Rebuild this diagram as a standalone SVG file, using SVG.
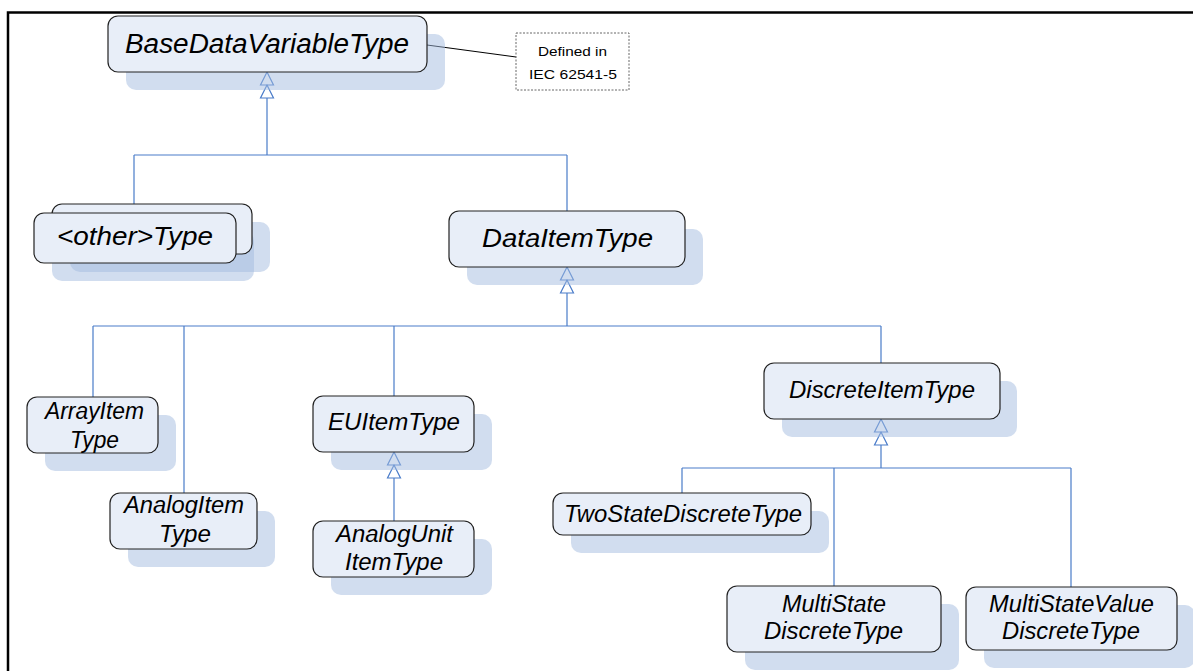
<svg xmlns="http://www.w3.org/2000/svg" width="1193" height="671" viewBox="0 0 1193 671">
<style>
.box{fill:#e8eef8;stroke:#222;stroke-width:1.2}
.sh{fill:#a3bbe0;opacity:0.5}
.t{font-family:"Liberation Sans",Arial,sans-serif;font-style:italic;fill:#000;text-anchor:middle}
.n{font-family:"Liberation Sans",Arial,sans-serif;fill:#000;text-anchor:middle;font-size:13px}
.c{fill:none;stroke:#4a7cc9;stroke-width:1.2}
.tri{fill:#fff;stroke:#4a7cc9;stroke-width:1.2}
</style>
<defs>
<path id="gen" class="tri" d="M0,0 L6.5,13 L-6.5,13 Z M0,13 L6.5,26 L-6.5,26 Z"/>
</defs>
<rect x="0" y="0" width="1193" height="671" fill="#fff"/>
<g id="frame" stroke="#000" stroke-width="2.5" fill="none">
<path d="M8,671 L8,12.5 L1193,12.5"/>
</g>
<g id="connectors">
<path class="c" d="M267,98 L267,155 M134,155 L567,155 M134,155 L134,204 M567,155 L567,211"/>
<use href="#gen" x="267" y="72"/>
<path class="c" d="M567,293 L567,326 M93,326 L881,326 M93,326 L93,397 M184,326 L184,493 M394,326 L394,396 M881,326 L881,363"/>
<use href="#gen" x="567" y="267"/>
<path class="c" d="M394,478 L394,521"/>
<use href="#gen" x="394" y="452"/>
<path class="c" d="M881,445 L881,468 M682,468 L1071,468 M682,468 L682,493 M834,468 L834,586 M1071,468 L1071,587"/>
<use href="#gen" x="881" y="419"/>
<path d="M427,45 L516,57" stroke="#000" stroke-width="1" fill="none"/>
</g>
<g id="BaseDataVariableType">
<rect class="sh" x="126" y="34" width="319" height="56" rx="10"/>
<rect class="box" x="108" y="16" width="319" height="56" rx="10"/>
<text class="t" x="267" y="53" font-size="27" textLength="284" lengthAdjust="spacingAndGlyphs">BaseDataVariableType</text>
</g>
<g id="note">
<rect x="516" y="33" width="113" height="57" fill="#fff" stroke="#666" stroke-width="1" stroke-dasharray="2,1.5"/>
<text class="n" x="572.5" y="56" textLength="69" lengthAdjust="spacingAndGlyphs">Defined in</text>
<text class="n" x="573" y="79" textLength="88" lengthAdjust="spacingAndGlyphs">IEC 62541-5</text>
</g>
<g id="OtherType">
<rect class="sh" x="70" y="222" width="200" height="50" rx="10"/>
<rect class="sh" x="52" y="231" width="202" height="50" rx="10"/>
<rect class="box" x="52" y="204" width="200" height="50" rx="10"/>
<rect class="box" x="34" y="213" width="202" height="50" rx="10"/>
<text class="t" x="135" y="245" font-size="25" textLength="156" lengthAdjust="spacingAndGlyphs">&lt;other&gt;Type</text>
</g>
<g id="DataItemType">
<rect class="sh" x="467" y="229" width="236" height="56" rx="10"/>
<rect class="box" x="449" y="211" width="236" height="56" rx="10"/>
<text class="t" x="567.5" y="247" font-size="25" textLength="171" lengthAdjust="spacingAndGlyphs">DataItemType</text>
</g>
<g id="ArrayItemType">
<rect class="sh" x="45" y="415" width="131" height="56" rx="10"/>
<rect class="box" x="27" y="397" width="131" height="56" rx="10"/>
<text class="t" x="94.5" y="419" font-size="23" textLength="99" lengthAdjust="spacingAndGlyphs">ArrayItem</text>
<text class="t" x="94.5" y="448" font-size="23" textLength="49" lengthAdjust="spacingAndGlyphs">Type</text>
</g>
<g id="AnalogItemType">
<rect class="sh" x="128" y="511" width="147" height="56" rx="10"/>
<rect class="box" x="110" y="493" width="147" height="56" rx="10"/>
<text class="t" x="184" y="513" font-size="23" textLength="120" lengthAdjust="spacingAndGlyphs">AnalogItem</text>
<text class="t" x="185" y="542" font-size="23" textLength="52" lengthAdjust="spacingAndGlyphs">Type</text>
</g>
<g id="EUItemType">
<rect class="sh" x="331" y="414" width="161" height="56" rx="10"/>
<rect class="box" x="313" y="396" width="161" height="56" rx="10"/>
<text class="t" x="394" y="430" font-size="23" textLength="132" lengthAdjust="spacingAndGlyphs">EUItemType</text>
</g>
<g id="AnalogUnitItemType">
<rect class="sh" x="331" y="539" width="161" height="56" rx="10"/>
<rect class="box" x="313" y="521" width="161" height="56" rx="10"/>
<text class="t" x="394.5" y="542" font-size="23" textLength="117" lengthAdjust="spacingAndGlyphs">AnalogUnit</text>
<text class="t" x="394" y="570" font-size="23" textLength="98" lengthAdjust="spacingAndGlyphs">ItemType</text>
</g>
<g id="DiscreteItemType">
<rect class="sh" x="782" y="381" width="235" height="56" rx="10"/>
<rect class="box" x="764" y="363" width="236" height="56" rx="10"/>
<text class="t" x="882" y="398" font-size="23" textLength="186" lengthAdjust="spacingAndGlyphs">DiscreteItemType</text>
</g>
<g id="TwoStateDiscreteType">
<rect class="sh" x="571" y="511" width="258" height="42" rx="10"/>
<rect class="box" x="553" y="493" width="258" height="42" rx="10"/>
<text class="t" x="683" y="522" font-size="23" textLength="238" lengthAdjust="spacingAndGlyphs">TwoStateDiscreteType</text>
</g>
<g id="MultiStateDiscreteType">
<rect class="sh" x="745" y="604" width="214" height="66" rx="10"/>
<rect class="box" x="727" y="586" width="214" height="66" rx="10"/>
<text class="t" x="834" y="612" font-size="23" textLength="104" lengthAdjust="spacingAndGlyphs">MultiState</text>
<text class="t" x="833.5" y="639" font-size="23" textLength="139" lengthAdjust="spacingAndGlyphs">DiscreteType</text>
</g>
<g id="MultiStateValueDiscreteType">
<rect class="sh" x="984" y="605" width="211" height="63" rx="10"/>
<rect class="box" x="966" y="587" width="211" height="63" rx="10"/>
<text class="t" x="1071.5" y="612" font-size="23" textLength="165" lengthAdjust="spacingAndGlyphs">MultiStateValue</text>
<text class="t" x="1071" y="639" font-size="23" textLength="138" lengthAdjust="spacingAndGlyphs">DiscreteType</text>
</g>
</svg>
